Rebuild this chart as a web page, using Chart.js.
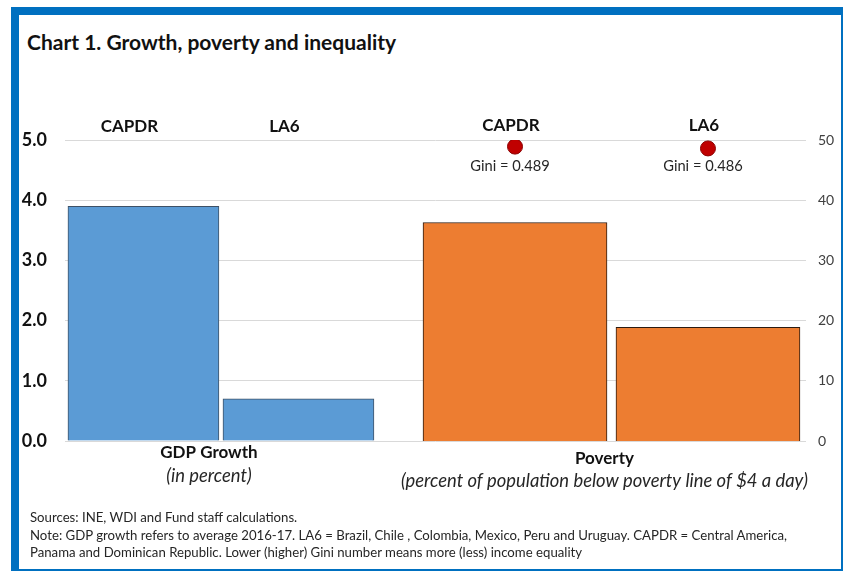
<!DOCTYPE html>
<html>
<head>
<meta charset="utf-8">
<script src="https://cdn.jsdelivr.net/npm/chart.js@4.4.0/dist/chart.umd.min.js"></script>
<style>
    body { margin: 0; background: #ffffff; font-family: Lato, 'Open Sans', sans-serif; }
    #frame {
        position: absolute; left: 11px; top: 7px; width: 822px; height: 554px;
        border-top: 8px solid #0070C0; border-left: 8px solid #0070C0;
        border-right: 2px solid #0070C0; border-bottom: 2px solid #0070C0;
    }
    #title {
        position: absolute; left: 27px; top: 29px; font-size: 21px; font-weight: bold; color: #111;
    }
    #notes {
        position: absolute; left: 30px; top: 509px; font-size: 13.2px; line-height: 17.5px; color: #262626;
    }
    #wrap { position: absolute; left: 0; top: 0; }
</style>
</head>
<body>
<div id="frame"></div>
<div id="title">Chart 1. Growth, poverty and inequality</div>
<div id="wrap"><canvas id="growthChart" width="844" height="574"></canvas></div>
<div id="notes">Sources: INE, WDI and Fund staff calculations.<br>
Note: GDP growth refers to average 2016-17. LA6 = Brazil, Chile , Colombia, Mexico, Peru and Uruguay. CAPDR = Central America,<br>
Panama and Dominican Republic. Lower (higher) Gini number means more (less) income equality</div>

<script>
// Data
const countries = ['CAPDR', 'LA6'];
const gdpGrowth = [3.9, 0.7];        // percent, left axis
const poverty = [36.3, 18.9];        // percent of population, right axis
const gini = [0.489, 0.486];
const leftTicks = [0, 1, 2, 3, 4, 5];
const rightTicks = [0, 10, 20, 30, 40, 50];

// Labels drawn on the chart (names over bars, group captions under them)
const labelPlugin = {
    id: 'labels',
    afterDatasetsDraw(chart) {
        const ctx = chart.ctx;
        const xG = chart.scales.xGdp;
        const xP = chart.scales.xPov;
        const top = chart.chartArea.top;
        const bottom = chart.chartArea.bottom;
        ctx.save();
        ctx.textAlign = 'center';
        ctx.textBaseline = 'middle';
        ctx.fillStyle = '#111111';

        countries.forEach((c, i) => {
            ctx.font = 'bold 17px Lato';
            ctx.fillText(c, xG.getPixelForValue(i) - 14, top - 13);
            ctx.fillText(c, xP.getPixelForValue(i) - 4, top - 14);
            ctx.font = '14.7px Lato';
            ctx.fillStyle = '#262626';
            ctx.fillText('Gini = ' + gini[i].toFixed(3), xP.getPixelForValue(i) - 5, top + 26);
            ctx.fillStyle = '#111111';
        });

        // group captions
        const gdpMid = (xG.getPixelForValue(0) + xG.getPixelForValue(1)) / 2 - 12;
        const povMid = (xP.getPixelForValue(0) + xP.getPixelForValue(1)) / 2 - 7;
        ctx.font = 'bold 17px Lato';
        ctx.fillText('GDP Growth', gdpMid, bottom + 12);
        ctx.fillText('Poverty', povMid, bottom + 18);
        ctx.font = 'italic 18.4px Lato';
        ctx.fillStyle = '#262626';
        ctx.fillText('(in percent)', gdpMid, bottom + 35);
        ctx.fillText('(percent of population below poverty line of $4 a day)', povMid, bottom + 40);
        ctx.restore();
    }
};

const ctx = document.getElementById('growthChart');

new Chart(ctx.getContext('2d'), {
    type: 'bar',
    data: {
        datasets: [
            {
                type: 'line',
                label: 'Gini',
                data: countries.map((c, i) => ({ x: i, y: gini[i] * 100 })),
                xAxisID: 'xPov',
                yAxisID: 'yRight',
                showLine: false,
                pointRadius: 7.5,
                pointBackgroundColor: '#C00000',
                pointBorderColor: '#8B0000',
                pointBorderWidth: 1
            },
            {
                label: 'GDP Growth',
                data: countries.map((c, i) => ({ x: i, y: gdpGrowth[i] })),
                xAxisID: 'xGdp',
                yAxisID: 'yLeft',
                backgroundColor: '#5B9BD5',
                borderColor: '#3E5166',
                borderWidth: 1,
                barThickness: 151,
                grouped: false
            },
            {
                label: 'Poverty',
                data: countries.map((c, i) => ({ x: i, y: poverty[i] })),
                xAxisID: 'xPov',
                yAxisID: 'yRight',
                backgroundColor: '#ED7D31',
                borderColor: '#2B1A10',
                borderWidth: 1,
                barThickness: 184,
                grouped: false
            }
        ]
    },
    options: {
        responsive: false,
        animation: false,
        layout: {
            padding: { top: 140, bottom: 133, left: 0, right: 0 }
        },
        plugins: {
            legend: { display: false },
            tooltip: { enabled: false }
        },
        scales: {
            xGdp: {
                type: 'linear',
                axis: 'x',
                display: false,
                offset: false,
                min: -0.506,
                max: 4.274
            },
            xPov: {
                type: 'linear',
                axis: 'x',
                display: false,
                offset: false,
                min: -2.332,
                max: 1.508
            },
            yLeft: {
                position: 'left',
                min: 0,
                max: 5,
                afterFit: (scale) => { scale.width = 65; },
                afterBuildTicks: (scale) => { scale.ticks = leftTicks.map(v => ({ value: v })); },
                grid: {
                    color: '#D9D9D9',
                    drawTicks: false
                },
                border: { display: false },
                ticks: {
                    color: '#111111',
                    padding: 18,
                    font: { size: 18, weight: 'bold', family: 'Lato' },
                    callback: (v) => v.toFixed(1)
                }
            },
            yRight: {
                position: 'right',
                min: 0,
                max: 50,
                afterFit: (scale) => { scale.width = 38; },
                afterBuildTicks: (scale) => { scale.ticks = rightTicks.map(v => ({ value: v })); },
                grid: { display: false, drawTicks: false },
                border: { display: false },
                ticks: {
                    color: '#404040',
                    padding: 12,
                    font: { size: 14, family: 'Lato' }
                }
            }
        }
    },
    plugins: [labelPlugin]
});
</script>
</body>
</html>
